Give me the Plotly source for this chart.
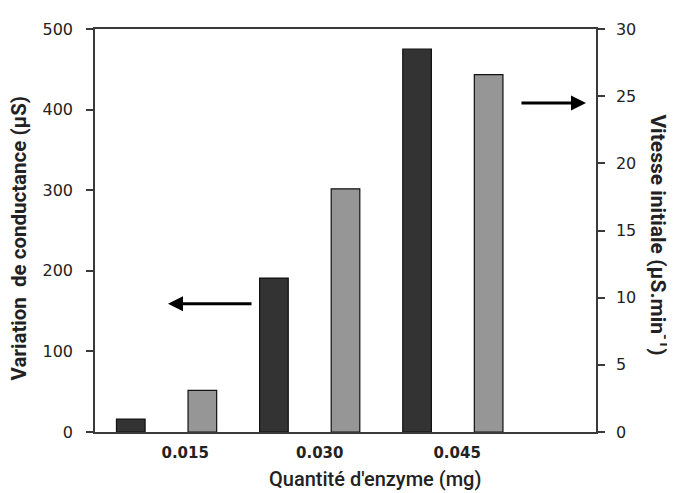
import plotly.graph_objects as go

categories = ["0.015", "0.030", "0.045"]
conductance = [16, 191, 475]          # left axis (µS)
vitesse = [3.1, 18.1, 26.6]           # right axis (µS.min-1)
label_shift = [0.13, 0.07, 0.03]

idx = list(range(len(categories)))

fig = go.Figure()
fig.add_trace(go.Bar(
    x=idx, y=conductance, yaxis="y", width=0.2, offset=-0.35,
    marker=dict(color="#333333", line=dict(color="#111111", width=1.2)),
    showlegend=False))
fig.add_trace(go.Bar(
    x=idx, y=vitesse, yaxis="y2", width=0.2, offset=0.15,
    marker=dict(color="#969696", line=dict(color="#111111", width=1.2)),
    showlegend=False))

axis_line = "#3a3a3a"
fig.update_layout(
    width=667, height=485,
    margin=dict(l=87, r=79, t=15, b=61),
    paper_bgcolor="white", plot_bgcolor="white",
    xaxis=dict(range=[-0.5, 3.0], tickvals=[i + s for i, s in zip(idx, label_shift)],
               ticktext=categories, showgrid=False, zeroline=False,
               showline=True, linecolor=axis_line, linewidth=1.5, mirror=True,
               ticks="", tickfont=dict(family="DejaVu Sans", size=15, color="#222222", weight="bold"),
               ticklabelstandoff=6),
    yaxis=dict(range=[0, 500], dtick=100, showgrid=False, zeroline=False,
               showline=True, linecolor=axis_line, linewidth=1.5,
               ticks="outside", ticklen=7, tickwidth=1.5, tickcolor=axis_line,
               tickfont=dict(family="DejaVu Sans", size=16, color="#222222"),
               ticklabelstandoff=10),
    yaxis2=dict(range=[0, 30], dtick=5, overlaying="y", side="right",
                showgrid=False, zeroline=False,
                showline=True, linecolor=axis_line, linewidth=1.5,
                ticks="outside", ticklen=7, tickwidth=1.5, tickcolor=axis_line,
                tickfont=dict(family="DejaVu Sans", size=16, color="#222222"),
                ticklabelstandoff=8),
    annotations=[
        dict(text="Quantité d'enzyme (mg)", xref="paper", yref="paper",
             x=0.559, y=-0.117, xanchor="center", yanchor="middle", showarrow=False,
             font=dict(family="Roboto", size=20, color="#222222", weight=500)),
        dict(text="Variation  de conductance (µS)", xref="paper", yref="paper",
             x=-0.152, y=0.48, xanchor="center", yanchor="middle", showarrow=False,
             textangle=-90,
             font=dict(family="Roboto", size=20.5, color="#222222", weight="bold")),
        dict(text="Vitesse initiale (µS.min<sup>-1</sup>)", xref="paper", yref="paper",
             x=1.128, y=0.49, xanchor="center", yanchor="middle", showarrow=False,
             textangle=90,
             font=dict(family="Roboto", size=21, color="#222222", weight="bold")),
        # arrows
        dict(text="", xref="x", yref="y", x=0.01, y=159, ax=85, ay=0,
             axref="pixel", ayref="pixel", showarrow=True, arrowhead=2,
             arrowsize=1, arrowwidth=3, arrowcolor="#000000"),
        dict(text="", xref="x", yref="y2", x=2.93, y=24.5, ax=-66, ay=0,
             axref="pixel", ayref="pixel", showarrow=True, arrowhead=2,
             arrowsize=1, arrowwidth=3, arrowcolor="#000000"),
    ],
)

fig.write_html("out.html")
